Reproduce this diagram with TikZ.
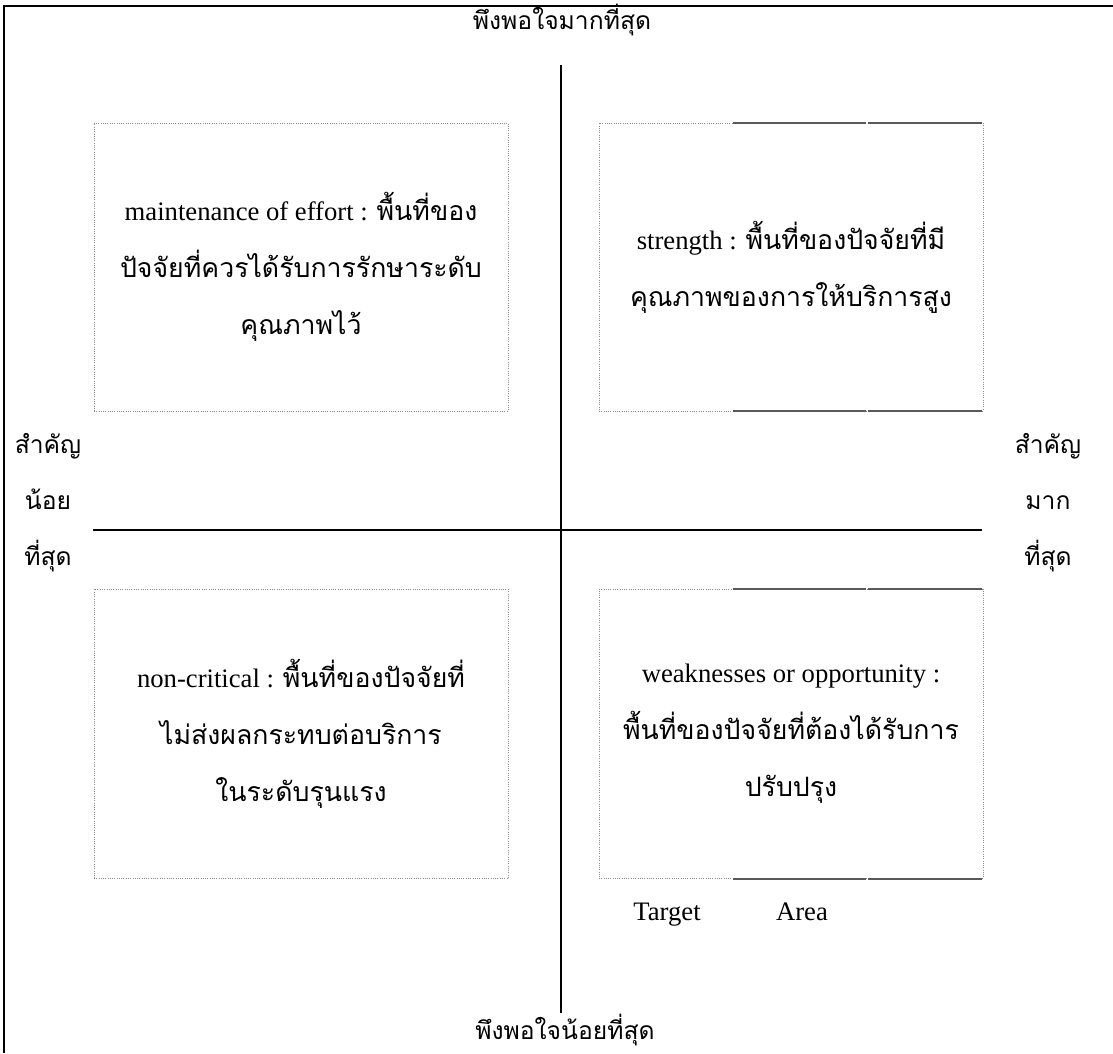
\documentclass[tikz,border=0pt]{standalone}
\usepackage{fontspec}
\setmainfont{Liberation Serif}
\newfontfamily\thaifont[Script=Thai]{Loma}
\usetikzlibrary{calc}

\newcommand{\thaitxt}[1]{{\thaifont #1}}

\tikzset{
  areabox/.style={draw=gray!90, densely dotted, line width=0.7pt, align=center, inner sep=0pt,
    font=\fontsize{20}{42.75}\selectfont},
  edgeseg/.style={draw=black!65, line width=1.5pt},
  axisline/.style={line width=1.6pt},
  axislbl/.style={font=\fontsize{18.5}{42}\selectfont\thaifont, align=center, inner sep=0pt},
  notelbl/.style={font=\fontsize{20}{24}\selectfont, inner sep=0pt, anchor=base}
}

\begin{document}
\begin{tikzpicture}[x=0.75pt,y=-0.75pt]
    \useasboundingbox (0,0) rectangle (1113,1053);

    %frame
    \draw[line width=1.5pt] (3.5,1053) -- (3.5,6) -- (1113,6);

    %axes
    \coordinate (ytop) at (561,65);
    \coordinate (ybot) at (561,1013);
    \coordinate (xleft) at (93,530);
    \coordinate (xright) at (982,530);
    \draw[axisline] (ytop) -- (ybot);
    \draw[axisline] (xleft) -- (xright);

    \node[axislbl] (most) at (562,20) {พึงพอใจมากที่สุด};
    \node[axislbl] (least) at (565,1030) {พึงพอใจน้อยที่สุด};
    \node[axislbl] (lowimp) at (48,503) {สำคัญ\\น้อย\\ที่สุด};
    \node[axislbl] (highimp) at (1048,503) {สำคัญ\\มาก\\ที่สุด};

    %quadrants
    \node[areabox, minimum width=310.5pt, minimum height=216pt] (maint) at (301,267)
      {maintenance of effort : \thaitxt{พื้นที่ของ}\\
       \thaitxt{ปัจจัยที่ควรได้รับการรักษาระดับ}\\
       \thaitxt{คุณภาพไว้}};
    \node[areabox, minimum width=288pt, minimum height=216pt] (strength) at (791,267)
      {strength : \thaitxt{พื้นที่ของปัจจัยที่มี}\\
       \thaitxt{คุณภาพของการให้บริการสูง}};
    \node[areabox, minimum width=310.5pt, minimum height=217pt] (noncrit) at (301,734)
      {non-critical : \thaitxt{พื้นที่ของปัจจัยที่}\\
       \thaitxt{ไม่ส่งผลกระทบต่อบริการ}\\
       \thaitxt{ในระดับรุนแรง}};
    \node[areabox, minimum width=288pt, minimum height=217pt] (weak) at (791,734)
      {weaknesses or opportunity :\\
       \thaitxt{พื้นที่ของปัจจัยที่ต้องได้รับการ}\\
       \thaitxt{ปรับปรุง}};

    %solid pieces on the right boxes
    \foreach \b in {strength,weak}{
      \draw[edgeseg] ($(\b.north west)!0.35!(\b.north east)$) -- ($(\b.north west)!0.696!(\b.north east)$);
      \draw[edgeseg] ($(\b.north west)!0.701!(\b.north east)$) -- ($(\b.north west)!0.995!(\b.north east)$);
      \draw[edgeseg] ($(\b.south west)!0.35!(\b.south east)$) -- ($(\b.south west)!0.696!(\b.south east)$);
      \draw[edgeseg] ($(\b.south west)!0.701!(\b.south east)$) -- ($(\b.south west)!0.995!(\b.south east)$);
    }

    \node[notelbl] (target) at (667,920) {Target};
    \node[notelbl] (area) at (802,920) {Area};
\end{tikzpicture}
\end{document}
